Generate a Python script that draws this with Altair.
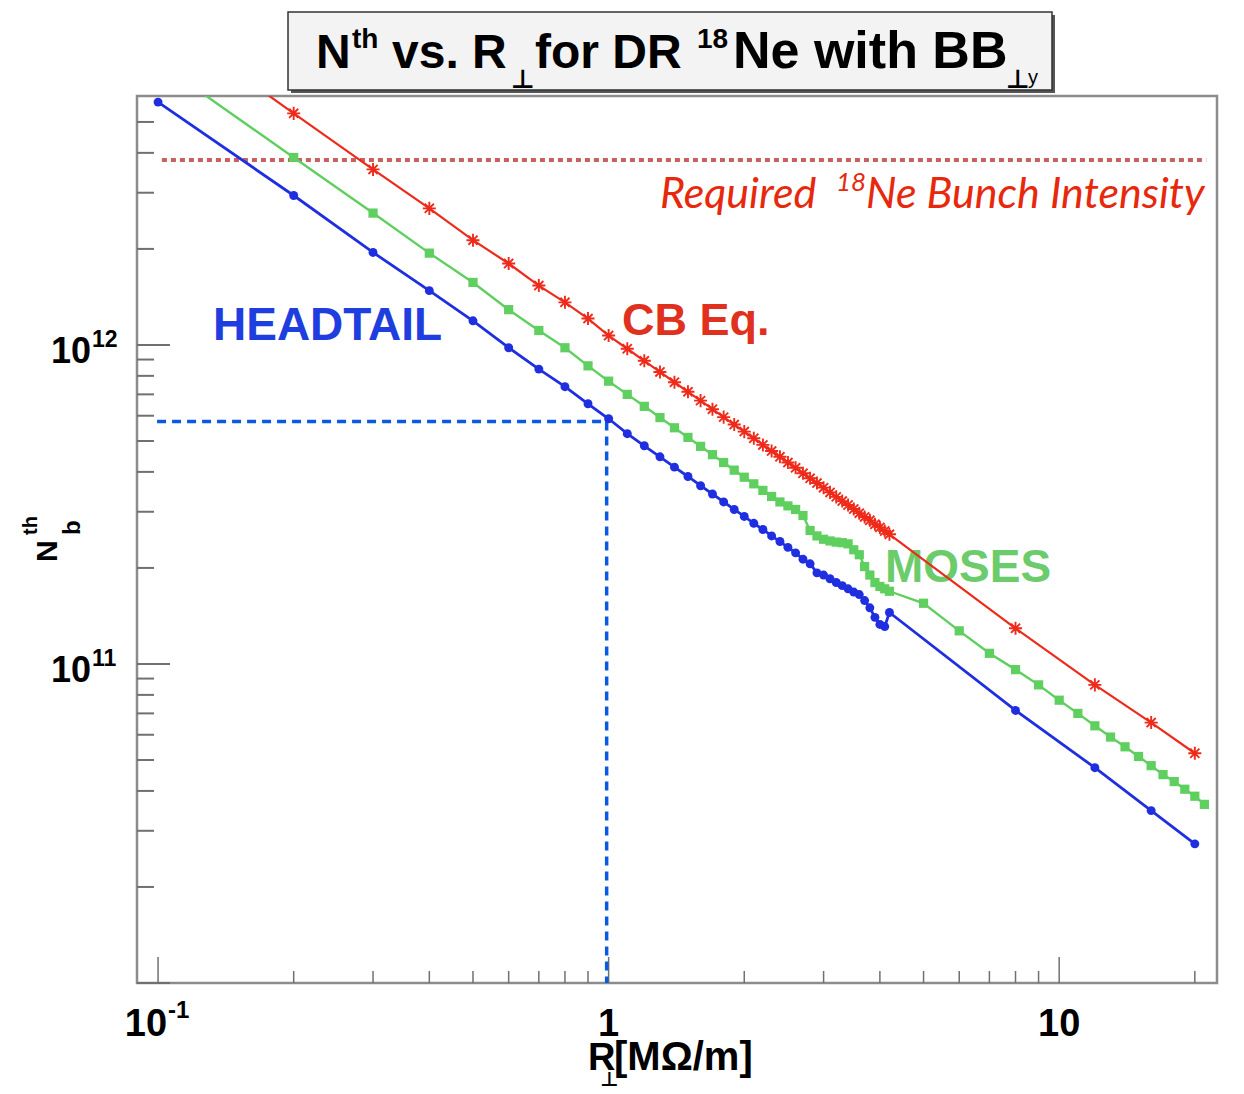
import altair as alt
import pandas as pd

# ---------------- data ----------------
R_blue = [0.1, 0.2, 0.3, 0.4, 0.5, 0.6, 0.7, 0.8, 0.9,
          1.0, 1.1, 1.2, 1.3, 1.4, 1.5, 1.6, 1.7, 1.8, 1.9,
          2.0, 2.1, 2.2, 2.3, 2.4, 2.5, 2.6, 2.7, 2.8, 2.9,
          3.0, 3.1, 3.2, 3.3, 3.4, 3.5, 3.6, 3.7, 3.8, 3.9,
          4.0, 4.1, 4.2, 8, 12, 16, 20]
N_blue = [5.77e12, 2.94e12, 1.95e12, 1.48e12, 1.19e12, 9.8e11, 8.4e11, 7.4e11, 6.54e11,
          5.87e11, 5.27e11, 4.83e11, 4.46e11, 4.14e11, 3.87e11, 3.62e11, 3.41e11, 3.22e11, 3.05e11,
          2.90e11, 2.76e11, 2.64e11, 2.52e11, 2.42e11, 2.32e11, 2.23e11, 2.13e11, 2.06e11, 1.93e11,
          1.90e11, 1.85e11, 1.80e11, 1.76e11, 1.72e11, 1.68e11, 1.65e11, 1.58e11, 1.50e11, 1.40e11,
          1.33e11, 1.31e11, 1.45e11, 7.15e10, 4.73e10, 3.47e10, 2.73e10]

R_green = [0.1, 0.2, 0.3, 0.4, 0.5, 0.6, 0.7, 0.8, 0.9,
           1.0, 1.1, 1.2, 1.3, 1.4, 1.5, 1.6, 1.7, 1.8, 1.9,
           2.0, 2.1, 2.2, 2.3, 2.4, 2.5, 2.6, 2.7, 2.8, 2.9,
           3.0, 3.1, 3.2, 3.3, 3.4, 3.5, 3.6, 3.7, 3.8, 3.9,
           4.0, 4.1, 4.2, 5, 6, 7, 8, 9, 10, 11, 12, 13, 14, 15,
           16, 17, 18, 19, 20, 21]
N_green = [7.7e12, 3.87e12, 2.59e12, 1.94e12, 1.57e12, 1.29e12, 1.11e12, 9.8e11, 8.6e11,
           7.7e11, 7.0e11, 6.42e11, 5.92e11, 5.5e11, 5.13e11, 4.81e11, 4.53e11, 4.28e11, 4.05e11,
           3.85e11, 3.67e11, 3.5e11, 3.35e11, 3.22e11, 3.13e11, 3.05e11, 2.92e11, 2.62e11, 2.52e11,
           2.46e11, 2.43e11, 2.41e11, 2.40e11, 2.38e11, 2.28e11, 2.20e11, 2.02e11, 1.90e11, 1.80e11,
           1.75e11, 1.72e11, 1.69e11, 1.55e11, 1.27e11, 1.08e11, 9.6e10, 8.6e10, 7.7e10, 7.0e10,
           6.4e10, 5.9e10, 5.5e10, 5.13e10, 4.8e10, 4.5e10, 4.28e10, 4.05e10, 3.85e10, 3.63e10]

R_red = [0.1, 0.2, 0.3, 0.4, 0.5, 0.6, 0.7, 0.8, 0.9,
         1.0, 1.1, 1.2, 1.3, 1.4, 1.5, 1.6, 1.7, 1.8, 1.9,
         2.0, 2.1, 2.2, 2.3, 2.4, 2.5, 2.6, 2.7, 2.8, 2.9,
         3.0, 3.1, 3.2, 3.3, 3.4, 3.5, 3.6, 3.7, 3.8, 3.9,
         4.0, 4.1, 4.2, 8, 12, 16, 20]
N_red = [1.07e13, 5.32e12, 3.55e12, 2.68e12, 2.13e12, 1.80e12, 1.535e12, 1.36e12, 1.21e12,
         1.07e12, 9.73e11, 8.92e11, 8.23e11, 7.64e11, 7.13e11, 6.69e11, 6.29e11, 5.94e11, 5.63e11,
         5.35e11, 5.10e11, 4.86e11, 4.65e11, 4.46e11, 4.28e11, 4.12e11, 3.96e11, 3.82e11, 3.69e11,
         3.57e11, 3.45e11, 3.34e11, 3.24e11, 3.15e11, 3.06e11, 2.97e11, 2.89e11, 2.82e11, 2.74e11,
         2.68e11, 2.61e11, 2.55e11, 1.294e11, 8.6e10, 6.55e10, 5.25e10]

required_N = [3.8e12]
required_R = [0.102, 21.2]
marker_R = [0.0995, 0.99]
marker_N = [5.75e11, 1.0e10]

y_major = [1e10, 1e11, 1e12]
y_minor = [2e10, 3e10, 4e10, 5e10, 6e10, 7e10, 8e10, 9e10,
           2e11, 3e11, 4e11, 5e11, 6e11, 7e11, 8e11, 9e11,
           2e12, 3e12, 4e12, 5e12]
x_major = [0.1, 1, 10]
x_minor = [0.2, 0.3, 0.4, 0.5, 0.6, 0.7, 0.8, 0.9,
           2, 3, 4, 5, 6, 7, 8, 9, 20]
y_label_vals = [1e11, 1e12]
y_label_sup = ["11", "12"]

# ---------------- chart ----------------
W, H = 1080, 887
xs = alt.Scale(type="log", domain=[0.0898, 22.4])
ys = alt.Scale(type="log", domain=[1.0e10, 6.03e12])

BLUE = "#1f2fe0"
GREEN = "#5fcf5f"
RED = "#ee2a1a"
ASTER = "M-1,0L1,0M0,-1L0,1M-0.7,-0.7L0.7,0.7M-0.7,0.7L0.7,-0.7"

one = pd.DataFrame({"a": [0]})


def series(R, N, color, shape, size, width, filled=True):
    df = pd.DataFrame({"R": R, "N": N})
    base = alt.Chart(df).encode(
        x=alt.X("R:Q", scale=xs, axis=None),
        y=alt.Y("N:Q", scale=ys, axis=None),
    )
    ln = base.mark_line(color=color, strokeWidth=width, clip=True)
    if filled:
        pt = base.mark_point(shape=shape, size=size, color=color, filled=True,
                             opacity=1, clip=True)
    else:
        pt = base.mark_point(shape=shape, size=size, color=color, filled=False,
                             strokeWidth=1.9, opacity=1, clip=True)
    return ln + pt


def txt(s, x, y, size, color="black", font="Liberation Sans", weight="bold",
        style="normal", align="left", angle=0):
    kw = dict(text=s, fontSize=size, font=font, fontWeight=weight, fontStyle=style,
              color=color, align=align, baseline="alphabetic")
    if angle:
        kw["angle"] = angle
    return alt.Chart(one).mark_text(**kw).encode(x=alt.value(x), y=alt.value(y))


layers = []

# inner ticks (pointing into the plot)
layers.append(alt.Chart(pd.DataFrame({"N": y_major})).mark_rule(color="#707070", strokeWidth=2).encode(
    y=alt.Y("N:Q", scale=ys, axis=None), x=alt.value(0), x2=alt.value(33)))
layers.append(alt.Chart(pd.DataFrame({"N": y_minor})).mark_rule(color="#707070", strokeWidth=2).encode(
    y=alt.Y("N:Q", scale=ys, axis=None), x=alt.value(0), x2=alt.value(17)))
layers.append(alt.Chart(pd.DataFrame({"R": x_major})).mark_rule(color="#707070", strokeWidth=1.5).encode(
    x=alt.X("R:Q", scale=xs, axis=None), y=alt.value(H), y2=alt.value(H - 26)))
layers.append(alt.Chart(pd.DataFrame({"R": x_minor})).mark_rule(color="#707070", strokeWidth=1.5).encode(
    x=alt.X("R:Q", scale=xs, axis=None), y=alt.value(H), y2=alt.value(H - 12)))

# required intensity (dotted)
layers.append(alt.Chart(pd.DataFrame({"R": [required_R[0]], "R2": [required_R[1]], "N": required_N}))
              .mark_rule(color="#c86060", strokeWidth=4, strokeDash=[5, 4]).encode(
    x=alt.X("R:Q", scale=xs, axis=None), x2="R2:Q", y=alt.Y("N:Q", scale=ys, axis=None)))

# blue dashed marker lines
layers.append(alt.Chart(pd.DataFrame({"R": [marker_R[0]], "R2": [marker_R[1]], "N": [marker_N[0]]}))
              .mark_rule(color="#0a5ae0", strokeWidth=3.5, strokeDash=[9, 6]).encode(
    x=alt.X("R:Q", scale=xs, axis=None), x2="R2:Q", y=alt.Y("N:Q", scale=ys, axis=None)))
layers.append(alt.Chart(pd.DataFrame({"R": [marker_R[1]], "N": [marker_N[0]], "N2": [marker_N[1]]}))
              .mark_rule(color="#0a5ae0", strokeWidth=3.5, strokeDash=[9, 6]).encode(
    x=alt.X("R:Q", scale=xs, axis=None), y=alt.Y("N:Q", scale=ys, axis=None), y2="N2:Q"))

# curve labels
layers.append(txt("HEADTAIL", 76, 244, 46, color="#1f3ee0"))
layers.append(txt("CB Eq.", 485, 239, 45, color="#e0301e"))
layers.append(txt("MOSES", 748, 486, 46, color="#6ccc6c"))

# data series
layers.append(series(R_green, N_green, GREEN, "square", 85, 2.4))
layers.append(series(R_blue, N_blue, BLUE, "circle", 80, 2.8))
layers.append(series(R_red, N_red, RED, ASTER, 170, 2.2, filled=False))

# required label
layers.append(txt("Required", 523, 112, 43, color="#e8280c", font="Lato", weight="normal", style="italic"))
layers.append(txt("18", 699, 95, 26, color="#e8280c", font="Lato", weight="normal", style="italic"))
layers.append(txt("Ne Bunch Intensity", 729, 112, 43, color="#e8280c", font="Lato", weight="normal", style="italic"))

# title box
layers.append(alt.Chart(one).mark_rect(color="#555555").encode(
    x=alt.value(154), x2=alt.value(918), y=alt.value(-81), y2=alt.value(-3)))
layers.append(alt.Chart(one).mark_rect(fill="#f3f3f3", stroke="#333333", strokeWidth=1.5).encode(
    x=alt.value(151), x2=alt.value(915), y=alt.value(-84), y2=alt.value(-6)))
layers.append(txt("N", 179, -28, 48))
layers.append(txt("th", 215, -48, 28))
layers.append(txt("vs. R", 255, -28, 48))
layers.append(txt("\u22a5", 374, -8, 26, font="DejaVu Sans"))
layers.append(txt("for DR", 398, -28, 48))
layers.append(txt("18", 560, -48, 28))
layers.append(txt("Ne with BB", 596, -28, 52))
layers.append(txt("\u22a5", 869, -8, 26, font="DejaVu Sans"))
layers.append(txt("y", 891, -12, 20, weight="normal"))

# y axis labels
ylab = pd.DataFrame({"N": y_label_vals, "sup": y_label_sup})
layers.append(alt.Chart(ylab).mark_text(text="10", fontSize=36, font="Liberation Sans", fontWeight="bold",
                                        align="right", baseline="alphabetic", dy=18, color="black").encode(
    y=alt.Y("N:Q", scale=ys, axis=None), x=alt.value(-46)))
layers.append(alt.Chart(ylab).mark_text(fontSize=23, font="Liberation Sans", fontWeight="bold",
                                        align="left", baseline="alphabetic", dy=2, color="black").encode(
    y=alt.Y("N:Q", scale=ys, axis=None), x=alt.value(-45), text="sup:N"))

# x axis labels
layers.append(alt.Chart(pd.DataFrame({"R": [0.1]})).mark_text(
    text="10", fontSize=38, font="Liberation Sans", fontWeight="bold", align="right",
    baseline="alphabetic", dx=9, color="black").encode(x=alt.X("R:Q", scale=xs, axis=None), y=alt.value(940)))
layers.append(alt.Chart(pd.DataFrame({"R": [0.1]})).mark_text(
    text="-1", fontSize=24, font="Liberation Sans", fontWeight="bold", align="left",
    baseline="alphabetic", dx=10, color="black").encode(x=alt.X("R:Q", scale=xs, axis=None), y=alt.value(922)))
layers.append(alt.Chart(pd.DataFrame({"R": [1, 10], "t": ["1", "10"]})).mark_text(
    fontSize=38, font="Liberation Sans", fontWeight="bold", align="center",
    baseline="alphabetic", color="black").encode(x=alt.X("R:Q", scale=xs, axis=None), y=alt.value(940),
                                                 text="t:N"))

# axis titles
layers.append(txt("R", 451, 974, 38, weight="bold"))
layers.append(txt("\u22a5", 463, 990, 20, font="DejaVu Sans"))
layers.append(txt("[M\u03a9/m]", 477, 974, 40, weight="bold"))
layers.append(txt("N", -80, 466, 30, angle=270))
layers.append(txt("b", -57, 439, 24, angle=270))
layers.append(txt("th", -100, 439, 20, angle=270))

chart = alt.layer(*layers).properties(
    width=W, height=H,
    padding={"left": 129, "top": 88, "right": 19, "bottom": 107},
    autosize=alt.AutoSizeParams(type="none"),
).configure_view(stroke="#8c8c8c", strokeWidth=2.5)

chart.save("out.html", embed_options={"renderer": "svg", "actions": False})
